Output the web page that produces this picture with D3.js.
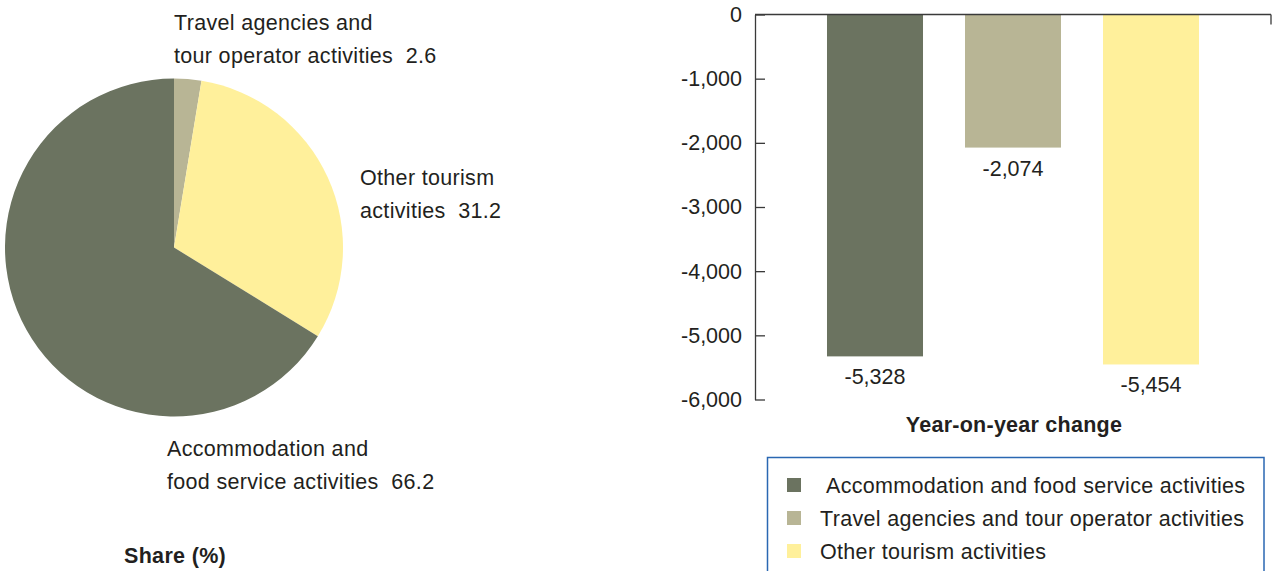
<!DOCTYPE html>
<html>
<head>
<meta charset="utf-8">
<script src="https://cdn.jsdelivr.net/npm/d3@7"></script>
<style>
  html, body { margin: 0; padding: 0; background: #fff; }
  svg { display: block; font-family: "Liberation Sans", Arial, Helvetica, sans-serif; }
</style>
</head>
<body>
<svg id="chart" width="1273" height="571"></svg>
<script>
// Tourism activities: share (%) and year-on-year change
const categories = [
  "Accommodation and food service activities",
  "Travel agencies and tour operator activities",
  "Other tourism activities"
];
const shareValues = [66.2, 2.6, 31.2];
const changeValues = [-5328, -2074, -5454];
const colors = ["#6b7360", "#b8b595", "#fff09b"];
const yTicks = [0, -1000, -2000, -3000, -4000, -5000, -6000];

// Pie label lines (two lines each, value appended to the second)
const pieLabelLines = [
  ["Accommodation and", "food service activities"],
  ["Travel agencies and", "tour operator activities"],
  ["Other tourism", "activities"]
];

const svg = d3.select("#chart");
const textColor = "#231f20";
const fontSize = 21.5;
const tracking = 0.32;

// number format with a plain hyphen for negatives
const fmt = v => d3.format(",")(v).replace("\u2212", "-");

// ---------- Pie ----------
const cx = 174, cy = 247.5, r = 169;
// Slices run clockwise from 12 o'clock: travel, other, accommodation
const pieOrder = [1, 2, 0];
const pie = d3.pie().sort(null).value(i => shareValues[i]);
const arcs = pie(pieOrder);
const arc = d3.arc().innerRadius(0).outerRadius(r);

const pg = svg.append("g").attr("transform", `translate(${cx},${cy})`);
pg.selectAll("path").data(arcs).join("path")
  .attr("d", arc)
  .attr("fill", d => colors[d.data]);

const pieLabelPos = [
  { x: 167, y: 456 },
  { x: 174, y: 30 },
  { x: 360, y: 185 }
];
const lineGap = 33;
categories.forEach((c, i) => {
  const t = svg.append("text")
    .attr("x", pieLabelPos[i].x).attr("y", pieLabelPos[i].y)
    .attr("font-size", fontSize).attr("letter-spacing", tracking).attr("fill", textColor);
  t.append("tspan").attr("x", pieLabelPos[i].x).text(pieLabelLines[i][0]);
  t.append("tspan").attr("x", pieLabelPos[i].x).attr("dy", lineGap)
    .text(pieLabelLines[i][1] + "\u00a0\u00a0" + shareValues[i].toFixed(1));
});

svg.append("text")
  .attr("x", 124).attr("y", 563)
  .attr("font-size", fontSize).attr("font-weight", "bold").attr("letter-spacing", tracking)
  .attr("fill", textColor)
  .text("Share (%)");

// ---------- Bar chart ----------
const axisX = 755;
const y = d3.scaleLinear().domain([0, -6000]).range([14.5, 399.5]);
const x = d3.scaleBand().domain(categories).range([755, 1271]).paddingInner(0.3043).paddingOuter(0.5217);

const bg = svg.append("g");
bg.selectAll("rect").data(categories).join("rect")
  .attr("x", d => x(d))
  .attr("width", x.bandwidth())
  .attr("y", y(0))
  .attr("height", (d, i) => y(changeValues[i]) - y(0))
  .attr("fill", (d, i) => colors[i]);

bg.selectAll("text.val").data(categories).join("text")
  .attr("class", "val")
  .attr("x", d => x(d) + x.bandwidth() / 2)
  .attr("y", (d, i) => y(changeValues[i]) + 28)
  .attr("text-anchor", "middle")
  .attr("font-size", fontSize).attr("fill", textColor)
  .text((d, i) => fmt(changeValues[i]));

// y axis with inward ticks
const yAxis = d3.axisLeft(y).tickValues(yTicks).tickFormat(fmt).tickSizeInner(-10).tickSizeOuter(0).tickPadding(13);
const ag = svg.append("g").attr("transform", `translate(${axisX},0)`).call(yAxis);
ag.select(".domain").attr("stroke", "#3a3a3a").attr("stroke-width", 1.3);
ag.selectAll(".tick line").attr("stroke", "#3a3a3a").attr("stroke-width", 1.3);
ag.selectAll(".tick text")
  .attr("font-size", fontSize).attr("fill", textColor)
  .attr("font-family", "'Liberation Sans', Arial, sans-serif");

// zero line across the top
svg.append("line")
  .attr("x1", axisX).attr("x2", 1271)
  .attr("y1", y(0)).attr("y2", y(0))
  .attr("stroke", "#3a3a3a").attr("stroke-width", 1.3);
svg.append("line")
  .attr("x1", 1271).attr("x2", 1271)
  .attr("y1", y(0)).attr("y2", y(0) + 10)
  .attr("stroke", "#3a3a3a").attr("stroke-width", 1.3);

svg.append("text")
  .attr("x", 1014).attr("y", 432)
  .attr("text-anchor", "middle")
  .attr("font-size", fontSize).attr("font-weight", "bold").attr("letter-spacing", 0.25)
  .attr("fill", textColor)
  .text("Year-on-year change");

// ---------- Legend ----------
const lg = svg.append("g");
lg.append("rect")
  .attr("x", 767.5).attr("y", 457.5)
  .attr("width", 496.5).attr("height", 130)
  .attr("fill", "#fff").attr("stroke", "#2a67b2").attr("stroke-width", 1.5);

const legendTextX = [826, 820, 820];
categories.forEach((c, i) => {
  const ry = 485 + i * 33;
  lg.append("rect")
    .attr("x", 787).attr("y", ry - 7)
    .attr("width", 14).attr("height", 14)
    .attr("fill", colors[i]);
  lg.append("text")
    .attr("x", legendTextX[i]).attr("y", ry + 8)
    .attr("font-size", fontSize).attr("letter-spacing", tracking).attr("fill", textColor)
    .text(c);
});
</script>
</body>
</html>
